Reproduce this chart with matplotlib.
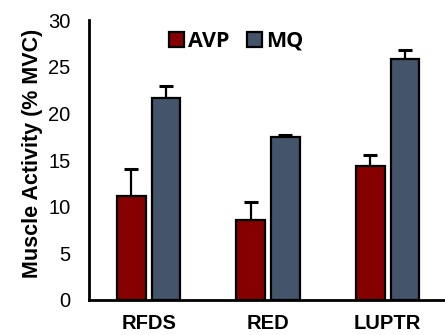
import numpy as np
import matplotlib.pyplot as plt

# muscle activity per task, mean and upper error (% MVC)
tasks = ['RFDS', 'RED', 'LUPTR']
avp_mean = [11.1, 8.6, 14.4]
avp_err = [2.9, 1.9, 1.1]
mq_mean = [21.6, 17.45, 25.8]
mq_err = [1.35, 0.25, 1.0]

avp_color = '#870000'
mq_color = '#44546A'

fig = plt.figure(figsize=(4.45, 3.35), dpi=100)
ax = fig.add_axes([0.2, 0.1045, 0.805, 0.8355])

x = np.arange(len(tasks))
w = 0.24
off = 0.145

for xs, mean, err, col, lab in [(x - off, avp_mean, avp_err, avp_color, 'AVP'),
                                (x + off, mq_mean, mq_err, mq_color, 'MQ')]:
    ax.bar(xs, mean, w, color=col, edgecolor='black', linewidth=1.6, label=lab, zorder=2)
    ax.errorbar(xs, mean, yerr=[np.zeros(len(mean)), err], fmt='none', ecolor='black',
                elinewidth=1.6, capsize=4.7, capthick=2.2, zorder=1)

ax.set_xlim(-0.5, 2.5)
ax.set_ylim(0, 30)
ax.set_yticks(np.arange(0, 31, 5))
ax.set_xticks(x)
ax.set_xticklabels(tasks, fontweight='bold', fontsize=14.5, family='Liberation Sans')
for t in ax.get_yticklabels():
    t.set_family('Liberation Sans')
    t.set_fontsize(14.5)
ax.tick_params(axis='y', length=0, pad=13.5)
ax.tick_params(axis='x', length=0, pad=10)

ax.spines['top'].set_visible(False)
ax.spines['right'].set_visible(False)
ax.spines['left'].set_linewidth(2)
ax.spines['bottom'].set_linewidth(2)

fig.text(0.072, 0.543, 'Muscle Activity (% MVC)', rotation=90, ha='center', va='center',
         fontweight='bold', fontsize=15.5, family='Liberation Sans')

leg = ax.legend(loc='center', bbox_to_anchor=(0.531, 0.877), bbox_transform=fig.transFigure,
                ncol=2, frameon=False, handlelength=0.7, handleheight=0.7,
                handletextpad=0.2, columnspacing=0.8,
                prop={'family': 'Open Sans', 'weight': 'bold', 'size': 15.5})

fig.savefig('out.png', dpi=100)
